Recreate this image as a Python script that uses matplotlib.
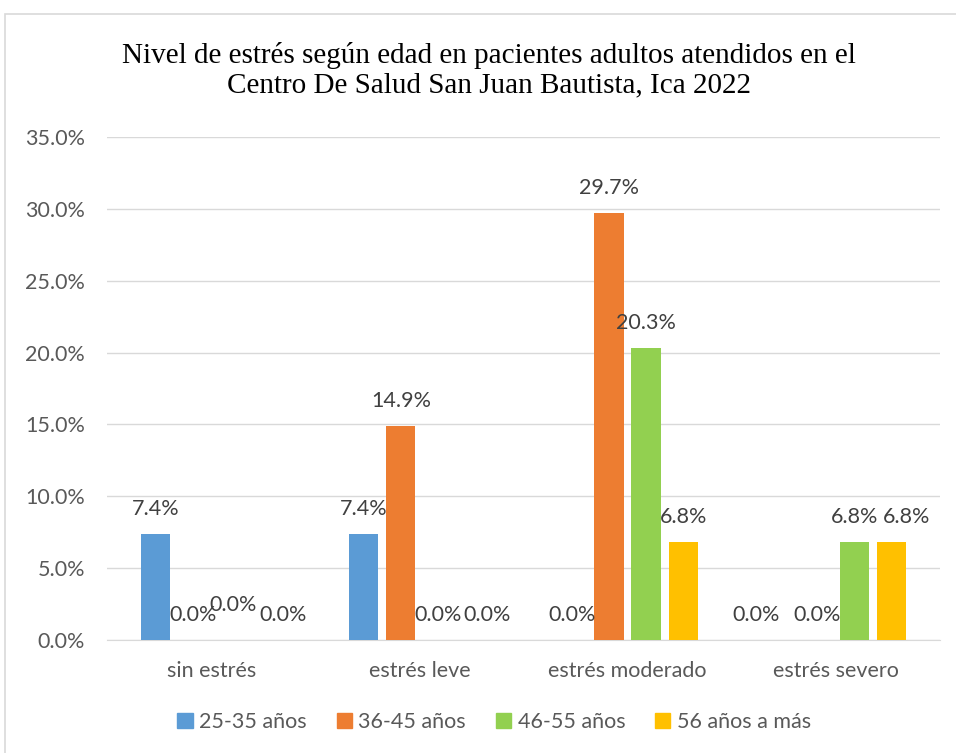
import numpy as np
import matplotlib
matplotlib.use("Agg")
import matplotlib.pyplot as plt
from matplotlib.patches import Rectangle, Patch

# datos
categorias = ["sin estrés", "estrés leve", "estrés moderado", "estrés severo"]
series = ["25-35 años", "36-45 años", "46-55 años", "56 años a más"]
valores = [
    [7.4, 7.4, 0.0, 0.0],     # 25-35
    [0.0, 14.9, 29.7, 0.0],   # 36-45
    [0.0, 0.0, 20.3, 6.8],    # 46-55
    [0.0, 0.0, 6.8, 6.8],     # 56 a más
]
colores = ["#5B9BD5", "#ED7D31", "#92D050", "#FFC000"]
titulo = "Nivel de estrés según edad en pacientes adultos atendidos en el\nCentro De Salud San Juan Bautista, Ica 2022"

# desplazamientos de etiquetas (px) como los coloca Excel
ajustes = {(0, 2): (3, 10), (0, 3): (16, 0), (1, 3): (12, 0), (3, 0): (-24, 0), (3, 3): (15, 0)}

fuente = ["Lato", "DejaVu Sans"]
gris = "#595959"
tam = 15.5

fig = plt.figure(figsize=(9.56, 7.53), dpi=100)
fig.patches.append(Rectangle((5 / 956, -0.1), 1.2, 1 - 14 / 753 + 0.1, transform=fig.transFigure,
                             fill=False, edgecolor="#d9d9d9", linewidth=1.2))
ax = fig.add_axes([0.112, 0.150, 0.871, 0.668])

x = np.arange(len(categorias))
paso = 0.178
ancho = 0.14
for i, (nombre, vals) in enumerate(zip(series, valores)):
    pos = x + (i - 1.5) * paso
    ax.bar(pos, vals, width=ancho, color=colores[i], label=nombre, zorder=3)
    for j, v in enumerate(vals):
        dx, dy = ajustes.get((j, i), (0, 0))
        ax.annotate(f"{v:.1f}%", (pos[j], v), xytext=(dx * 0.72, 18 + dy * 0.72),
                    textcoords="offset points", ha="center", va="center",
                    fontsize=tam, color="#404040", family=fuente, zorder=4)

ax.set_ylim(0, 35)
ax.set_xlim(-0.5, 3.5)
ax.set_yticks(np.arange(0, 36, 5))
ax.set_yticklabels([f"{t:.1f}%" for t in np.arange(0, 36, 5)])
ax.set_xticks(x)
ax.set_xticklabels(categorias)
ax.grid(axis="y", color="#d9d9d9", linewidth=1, zorder=0)
for s in ["top", "right", "left"]:
    ax.spines[s].set_visible(False)
ax.spines["bottom"].set_color("#d9d9d9")
ax.tick_params(length=0, labelsize=tam, labelcolor=gris)
ax.tick_params(axis="x", pad=15)
ax.tick_params(axis="y", pad=16)
for lab in ax.get_xticklabels() + ax.get_yticklabels():
    lab.set_family(fuente)

fig.text(0.511, 0.907, titulo, ha="center", va="center", fontsize=21,
         family=["Liberation Serif"], linespacing=1.2)

manejas = [Patch(color=c, label=n) for c, n in zip(colores, series)]
leg = fig.legend(handles=manejas, loc="center", bbox_to_anchor=(0.517, 0.041), ncol=4,
                 frameon=False, handlelength=0.7, handleheight=0.7, handletextpad=0.3,
                 columnspacing=1.4, prop={"family": fuente, "size": tam})
for t in leg.get_texts():
    t.set_color(gris)

fig.savefig("out.png", dpi=100)
